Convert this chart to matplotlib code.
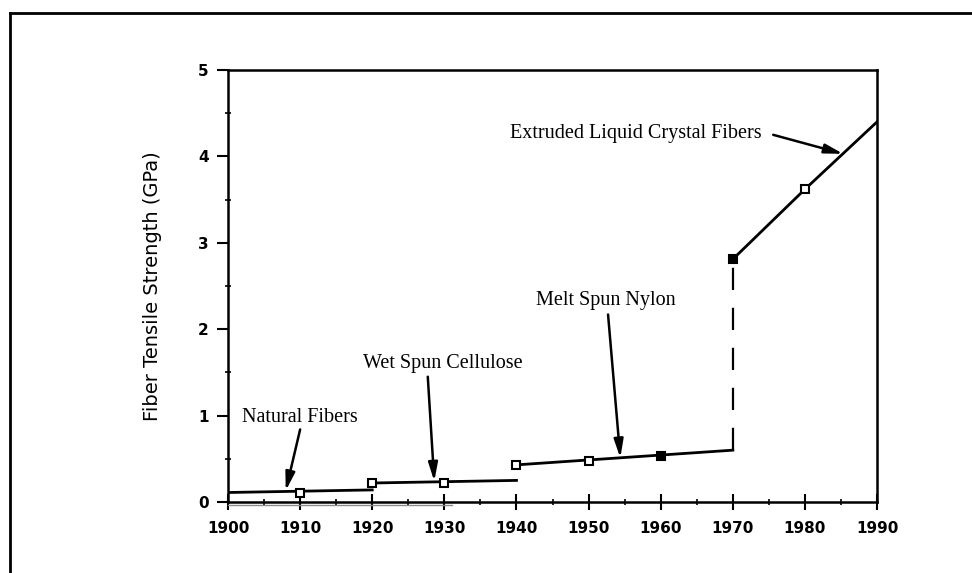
# fiber tensile strength over the 20th century
import numpy as np
import matplotlib.pyplot as plt
from matplotlib.lines import Line2D
from matplotlib.ticker import MultipleLocator

# segments of the curve (year, GPa)
natural_years = [1900, 1920]
natural_vals = [0.11, 0.14]
cellulose_years = [1920, 1940]
cellulose_vals = [0.22, 0.25]
nylon_years = [1940, 1970]
nylon_vals = [0.43, 0.60]
lcp_years = [1970, 1980, 1990]
lcp_vals = [2.81, 3.62, 4.40]

# measured points
point_years = [1910, 1920, 1930, 1940, 1950, 1960, 1970, 1980]
point_vals = [0.11, 0.22, 0.22, 0.43, 0.47, 0.53, 2.81, 3.62]
point_filled = [False, False, False, False, False, True, True, False]

# labels: text, text position, arrow tail, arrow tip
labels = ['Natural Fibers', 'Wet Spun Cellulose', 'Melt Spun Nylon',
          'Extruded Liquid Crystal Fibers']
label_xy = [(1902.0, 0.98), (1918.7, 1.60), (1942.7, 2.33), (1974.0, 4.26)]
tail_xy = [(1910.0, 0.84), (1927.7, 1.45), (1952.7, 2.17), (1975.6, 4.25)]
tip_xy = [(1908.0, 0.13), (1928.6, 0.24), (1954.4, 0.51), (1985.3, 4.03)]
label_ha = ['left', 'left', 'left', 'right']

xticks = np.arange(1900, 1991, 10)
yticks = [0, 1, 2, 3, 4, 5]

fig = plt.figure(figsize=(9.72, 5.73), dpi=100)
ax = fig.add_axes([0.2346, 0.1239, 0.6677, 0.7539])

for xs, ys in [(natural_years, natural_vals), (cellulose_years, cellulose_vals),
               (nylon_years, nylon_vals), (lcp_years, lcp_vals)]:
    ax.plot(xs, ys, color='black', lw=2)

# jump from nylon to liquid crystal fibers
ax.plot([nylon_years[-1], lcp_years[0]], [nylon_vals[-1], lcp_vals[0]],
        color='black', lw=1.6, dashes=(10, 8))

for x, y, f in zip(point_years, point_vals, point_filled):
    ax.plot(x, y, marker='s', ms=6, mec='black', mew=1.5,
            mfc='black' if f else 'white', zorder=5)

for text, (lx, ly), (tx, ty), (px, py), ha in zip(labels, label_xy, tail_xy, tip_xy, label_ha):
    ax.text(lx, ly, text, ha=ha, va='center', fontsize=14.5,
            family='Liberation Serif')
    ax.annotate('', xy=(px, py), xytext=(tx, ty),
                arrowprops=dict(arrowstyle='-|>,head_length=1.1,head_width=0.28',
                                color='black', lw=1.8, shrinkA=0, shrinkB=0))

# faint double line under the axis (scan look)
ax.plot([1900, 1931], [-0.04, -0.04], color='0.55', lw=1, clip_on=False)

ax.set_xlim(1900, 1990)
ax.set_ylim(0, 5)
ax.set_xticks(xticks)
ax.set_yticks(yticks)
ax.xaxis.set_minor_locator(MultipleLocator(5))
ax.yaxis.set_minor_locator(MultipleLocator(0.5))
ax.tick_params(which='major', direction='out', length=8, width=1.5, pad=6)
ax.tick_params(axis='x', which='major', direction='inout', length=12, pad=8)
ax.tick_params(which='minor', direction='inout', length=5, width=1.2)
for lab in ax.get_xticklabels() + ax.get_yticklabels():
    lab.set_family('DejaVu Sans')
    lab.set_fontweight('bold')
    lab.set_fontsize(11)
for s in ax.spines.values():
    s.set_linewidth(1.8)

ax.set_ylabel('Fiber Tensile Strength (GPa)', fontsize=14, labelpad=26)

# outer frame of the scanned figure
fig.add_artist(Line2D([10 / 972, 10 / 972], [0, 1 - 13 / 573],
                      transform=fig.transFigure, color='black', lw=2))
fig.add_artist(Line2D([10 / 972, 1], [1 - 13 / 573, 1 - 13 / 573],
                      transform=fig.transFigure, color='black', lw=2))

plt.savefig('out.png', dpi=100)
